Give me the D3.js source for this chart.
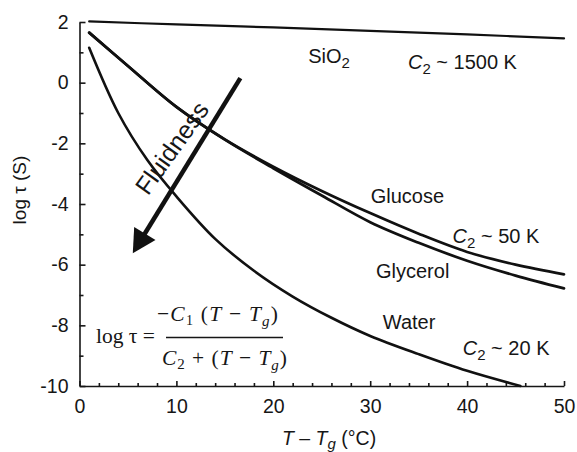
<!DOCTYPE html>
<html lang="en">
<head>
<meta charset="utf-8">
<title>log tau vs T - Tg</title>
<style>
    body { margin: 0; background: #fff; }
    text { font-family: "Liberation Sans", Arial, Helvetica, sans-serif; fill: #161616; }
    .tick text { font-size: 19.5px; }
    .domain, .tick line { stroke: #161616; stroke-width: 1.6; }
    .curve { fill: none; stroke: #111; stroke-linecap: round; stroke-linejoin: round; }
    .note { font-size: 20px; }
    .formula text { font-family: "Liberation Serif", "Times New Roman", serif; font-size: 21.5px; }
</style>
</head>
<body>
<svg width="577" height="452"></svg>
<script src="https://d3js.org/d3.v7.min.js"></script>
<script>
    // values: [T - Tg (°C), log tau]
    var sio2 = [[1, 2.02], [10, 1.92], [20, 1.82], [30, 1.71], [40, 1.59], [50, 1.46]];
    var glucose = [[1, 1.65], [5, 0.55], [10, -0.8], [15, -1.87], [20, -2.77], [25, -3.57],
                   [30, -4.3], [35, -4.98], [40, -5.58], [45, -6.0], [50, -6.32]];
    var glycerol = [[1, 1.65], [5, 0.55], [10, -0.8], [15, -1.88], [20, -2.82], [25, -3.72],
                    [30, -4.6], [35, -5.28], [40, -5.87], [45, -6.36], [50, -6.78]];
    var water = [[1, 1.15], [4, -1.0], [7, -2.55], [10, -3.75], [14, -5.15], [18, -6.2],
                 [22, -7.05], [26, -7.75], [30, -8.35], [35, -8.95], [40, -9.5], [45.5, -10]];

    var xMajor = [0, 10, 20, 30, 40, 50];
    var xMinor = d3.range(2, 50, 2).filter(d => d % 10 !== 0);
    var yMajor = [-10, -8, -6, -4, -2, 0, 2];
    var yMinor = [-9, -7, -5, -3, -1, 1];

    // arrow and label positions in data units
    var arrowFrom = [16.6, 0.15], arrowTo = [5.5, -5.62];
    var notes = [
        { x: 23.6, y: 0.64, parts: [['SiO', ''], ['2', 'sub']] },
        { x: 33.9, y: 0.44, parts: [['C', 'it'], ['2', 'sub'], [' ~ 1500 K', '']] },
        { x: 30.05, y: -3.98, parts: [['Glucose', '']] },
        { x: 38.5, y: -5.3, parts: [['C', 'it'], ['2', 'sub'], [' ~ 50 K', '']] },
        { x: 30.6, y: -6.45, parts: [['Glycerol', '']] },
        { x: 31.3, y: -8.13, parts: [['Water', '']] },
        { x: 39.55, y: -8.98, parts: [['C', 'it'], ['2', 'sub'], [' ~ 20 K', '']] }
    ];

    var svg = d3.select('svg');

    var x = d3.scaleLinear().domain([0, 50]).range([79.5, 564]);
    var y = d3.scaleLinear().domain([-10, 2]).range([386, 22]);

    // axes, ticks pointing inward
    svg.append('g')
        .attr('transform', `translate(0,${y(-10)})`)
        .call(d3.axisBottom(x).tickValues(xMinor).tickSize(-3).tickFormat(''))
        .call(g => g.select('.domain').remove());
    svg.append('g')
        .attr('transform', `translate(0,${y(-10)})`)
        .call(d3.axisBottom(x).tickValues(xMajor).tickSize(-5).tickSizeOuter(0).tickPadding(13).tickFormat(d => d));

    svg.append('g')
        .attr('transform', `translate(${x(0)},0)`)
        .call(d3.axisLeft(y).tickValues(yMinor).tickSize(-4).tickFormat(''))
        .call(g => g.select('.domain').remove());
    svg.append('g')
        .attr('transform', `translate(${x(0)},0)`)
        .call(d3.axisLeft(y).tickValues(yMajor).tickSize(-6).tickSizeOuter(0).tickPadding(11).tickFormat(d => String(d)));

    // axis titles
    svg.append('text')
        .attr('transform', 'translate(26,190) rotate(-90)')
        .attr('text-anchor', 'middle')
        .style('font-size', '19px')
        .text('log \u03c4 (S)');

    var xt = svg.append('text')
        .attr('x', 282).attr('y', 445)
        .style('font-size', '19.5px');
    xt.append('tspan').style('font-style', 'italic').text('T');
    xt.append('tspan').text(' \u2013 ');
    xt.append('tspan').style('font-style', 'italic').text('T');
    xt.append('tspan').style('font-style', 'italic').style('font-size', '15px').attr('dy', 4).text('g');
    xt.append('tspan').attr('dy', -4).text(' (\u00b0C)');

    // curves
    var line = d3.line()
        .x(d => x(d[0]))
        .y(d => y(d[1]))
        .curve(d3.curveCatmullRom.alpha(0.5));

    svg.append('path').datum(sio2).attr('class', 'curve').attr('stroke-width', 2.2).attr('d', line);
    svg.append('path').datum(glucose).attr('class', 'curve').attr('stroke-width', 2.7).attr('d', line);
    svg.append('path').datum(glycerol).attr('class', 'curve').attr('stroke-width', 2.7).attr('d', line);
    svg.append('path').datum(water).attr('class', 'curve').attr('stroke-width', 2.6).attr('d', line);

    // "Fluidness" arrow
    var ax0 = x(arrowFrom[0]), ay0 = y(arrowFrom[1]),
        ax1 = x(arrowTo[0]), ay1 = y(arrowTo[1]);
    var len = Math.hypot(ax1 - ax0, ay1 - ay0),
        ux = (ax1 - ax0) / len, uy = (ay1 - ay0) / len;
    var headLen = 23, headHalf = 12.5;
    var bx = ax1 - ux * headLen, by = ay1 - uy * headLen;
    svg.append('line')
        .attr('x1', ax0).attr('y1', ay0)
        .attr('x2', bx + ux * 2).attr('y2', by + uy * 2)
        .attr('stroke', '#111').attr('stroke-width', 4.5);
    svg.append('polygon')
        .attr('points', [[ax1, ay1], [bx - uy * headHalf, by + ux * headHalf], [bx + uy * headHalf, by - ux * headHalf]].join(' '))
        .attr('fill', '#111');

    var angle = Math.atan2(ay0 - ay1, ax0 - ax1) * 180 / Math.PI;
    svg.append('text')
        .attr('transform', `translate(179,153) rotate(${angle + 4})`)
        .attr('text-anchor', 'middle')
        .style('font-size', '25px')
        .text('Fluidness');

    // curve labels
    notes.forEach(n => {
        var t = svg.append('text').attr('class', 'note')
            .attr('x', x(n.x)).attr('y', y(n.y));
        var sub = false;
        n.parts.forEach(p => {
            var s = t.append('tspan').text(p[0]);
            if (p[1] === 'it') s.style('font-style', 'italic');
            if (p[1] === 'sub') { s.attr('dy', 5).style('font-size', '15px'); sub = true; }
            else if (sub) { s.attr('dy', -5); sub = false; }
        });
    });

    // WLF formula
    var f = svg.append('g').attr('class', 'formula');
    f.append('text').attr('x', 96).attr('y', 343).text('log \u03c4 =');
    var num = f.append('text').attr('x', 157).attr('y', 321)
        .attr('textLength', 121).attr('lengthAdjust', 'spacing');
    num.append('tspan').text('\u2212');
    num.append('tspan').style('font-style', 'italic').text('C');
    num.append('tspan').style('font-size', '14px').attr('dy', 4).text('1');
    num.append('tspan').attr('dy', -4).text(' (');
    num.append('tspan').style('font-style', 'italic').text('T');
    num.append('tspan').text(' \u2212 ');
    num.append('tspan').style('font-style', 'italic').text('T');
    num.append('tspan').style('font-style', 'italic').style('font-size', '15px').attr('dy', 5).text('g');
    num.append('tspan').attr('dy', -5).text(')');

    f.append('line')
        .attr('x1', 166).attr('x2', 283).attr('y1', 337.5).attr('y2', 337.5)
        .attr('stroke', '#161616').attr('stroke-width', 1.3);

    var den = f.append('text').attr('x', 162).attr('y', 365)
        .attr('textLength', 125).attr('lengthAdjust', 'spacing');
    den.append('tspan').style('font-style', 'italic').text('C');
    den.append('tspan').style('font-size', '15px').attr('dy', 4).text('2');
    den.append('tspan').attr('dy', -4).text(' + (');
    den.append('tspan').style('font-style', 'italic').text('T');
    den.append('tspan').text(' \u2212 ');
    den.append('tspan').style('font-style', 'italic').text('T');
    den.append('tspan').style('font-style', 'italic').style('font-size', '15px').attr('dy', 5).text('g');
    den.append('tspan').attr('dy', -5).text(')');
</script>
</body>
</html>
